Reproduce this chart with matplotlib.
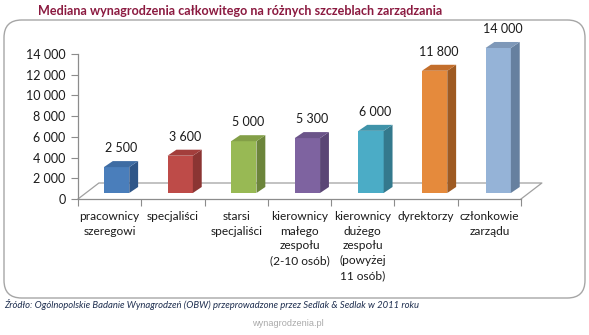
import matplotlib
matplotlib.use("Agg")
import matplotlib.pyplot as plt
from matplotlib.patches import Polygon, Rectangle, FancyBboxPatch
import numpy as np

# Data
categories = [
    "pracownicy\nszeregowi",
    "specjaliści",
    "starsi\nspecjaliści",
    "kierownicy\nmałego\nzespołu\n(2-10 osób)",
    "kierownicy\ndużego\nzespołu\n(powyżej\n11 osób)",
    "dyrektorzy",
    "członkowie\nzarządu",
]
values = [2500, 3600, 5000, 5300, 6000, 11800, 14000]
y_ticks = [0, 2000, 4000, 6000, 8000, 10000, 12000, 14000]

front_colors = ["#4A7EBB", "#BE4B48", "#98B954", "#7E63A0", "#4BACC6", "#E58A3C", "#95B3D7"]
side_colors = ["#2F5688", "#8B3533", "#6C853B", "#5A4675", "#34798D", "#9E5A22", "#66809F"]
top_colors = ["#3E6CA3", "#A33E3C", "#839F47", "#6B5489", "#3F93A9", "#C36E2B", "#7E98B8"]

def fmt(v):
    return f"{v:,}".replace(",", " ")

W, H = 589, 335
fig = plt.figure(figsize=(W / 100, H / 100), dpi=100)
fig.patch.set_facecolor("white")

FONT = ["Lato", "DejaVu Sans"]

# rounded frame around the chart
frame = FancyBboxPatch((4 / W, 37 / H), 581 / W, 278 / H,
                       boxstyle="round,pad=0,rounding_size=0.03",
                       transform=fig.transFigure, facecolor="white",
                       edgecolor="#A6A6A6", linewidth=1.0, mutation_aspect=W / H,
                       zorder=-5)
fig.patches.append(frame)

fig.text(240 / W, 1 - 11 / H, "Mediana wynagrodzenia całkowitego na różnych szczeblach zarządzania",
         ha="center", va="center", fontsize=9.1, fontweight="bold", color="#8B1A40", family=FONT)

ax = fig.add_axes([78 / W, (H - 199) / H, (521 - 78) / W, 145 / H])
ax.set_zorder(2)
ax.set_xlim(-0.5, len(values) - 0.5)
ax.set_ylim(0, 14000)
ax.patch.set_alpha(0)

grey = "#8C8C8C"
for s in ["top", "right"]:
    ax.spines[s].set_visible(False)
for s in ["left", "bottom"]:
    ax.spines[s].set_color(grey)
    ax.spines[s].set_linewidth(0.9)

# floor depth (oblique projection)
fdx, fdy = 0.33, 1545
x0, x1 = -0.5, len(values) - 0.5
floor_kw = dict(color="#A0A0A0", lw=0.9, clip_on=False)
ax.plot([x0, x0 + fdx, x1 + fdx, x1], [0, fdy, fdy, 0], **floor_kw)

# bars with side and top faces
base = 580
bw = 0.40
ddx, ddy = 0.14, 580
for i, v in enumerate(values):
    left = i - 0.09 + 0.005 * i
    right = left + bw
    ax.add_patch(Rectangle((left, base), bw, v, facecolor=front_colors[i],
                           edgecolor="none", clip_on=False, zorder=3))
    ax.add_patch(Polygon([(right, base), (right + ddx, base + ddy),
                          (right + ddx, base + ddy + v), (right, base + v)],
                         closed=True, facecolor=side_colors[i], edgecolor="none",
                         clip_on=False, zorder=3))
    ax.add_patch(Polygon([(left, base + v), (left + ddx, base + v + ddy),
                          (right + ddx, base + v + ddy), (right, base + v)],
                         closed=True, facecolor=top_colors[i], edgecolor="none",
                         clip_on=False, zorder=3))
    ax.annotate(fmt(v), ((left + right + ddx) / 2, base + v + ddy),
                xytext=(0, 5), textcoords="offset points", ha="center", va="bottom",
                fontsize=9, color="#1A1A1A", family=FONT, annotation_clip=False)

ax.set_yticks(y_ticks)
ax.set_yticklabels([fmt(t) for t in y_ticks], family=FONT)
ax.tick_params(axis="y", direction="out", length=5, color=grey, labelsize=9,
               pad=4, labelcolor="#1A1A1A")

ax.set_xticks(np.arange(-0.5, len(values), 1.0))
ax.set_xticklabels([])
ax.tick_params(axis="x", which="major", direction="out", length=5, color=grey)
ax.set_xticks(np.arange(len(values)), minor=True)
ax.set_xticklabels(categories, minor=True, family=FONT, fontsize=8.6,
                   color="#1A1A1A", linespacing=1.42)
ax.tick_params(axis="x", which="minor", length=0, pad=8.5)

fig.text(4 / W, 1 - 305 / H,
         "Źródło: Ogólnopolskie Badanie Wynagrodzeń (OBW) przeprowadzone przez Sedlak & Sedlak w 2011 roku",
         ha="left", va="center", fontsize=6.8, style="italic", color="#1F2F50",
         family=FONT)
fig.text(288 / W, 1 - 323 / H, "wynagrodzenia.pl", ha="center", va="center",
         fontsize=6.6, color="#AAAAAA", family=["Liberation Sans", "DejaVu Sans"])

fig.savefig("out.png", dpi=100, facecolor="white")
